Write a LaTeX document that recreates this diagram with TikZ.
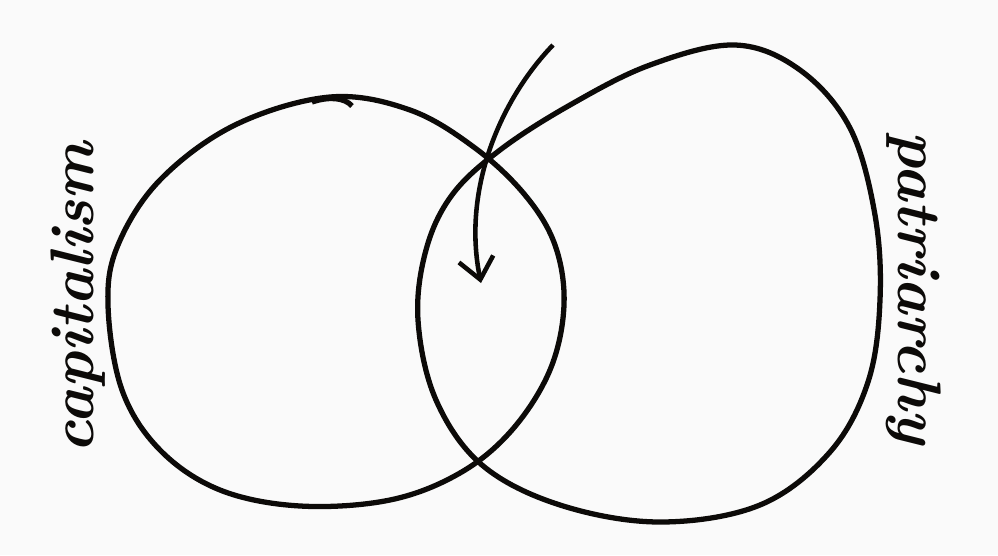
\documentclass[tikz,border=0pt]{standalone}
\usepackage{tikz}
\usetikzlibrary{arrows.meta, positioning, calc}
\usepackage{xcolor}
\definecolor{paper}{RGB}{250,250,250}
\definecolor{ink}{RGB}{12,10,8}

\begin{document}
\begin{tikzpicture}[
      x=0.02cm, y=-0.02cm,
      ring/.style={draw=ink, line width=3pt, line join=round},
      lbl/.style={text=ink, font=\fontsize{35}{38}\selectfont\bfseries\itshape, inner sep=0pt},
      arr/.style={-{Straight Barb[length=0.42cm, width=0.7cm]}, line width=2.6pt, draw=ink}
    ]
    \fill[paper] (0,0) rectangle (998,555);
    \useasboundingbox (0,0) rectangle (998,555);
    % left set
    \draw[ring] plot[smooth cycle, tension=0.6] coordinates {
      (330,97) (410,110) (475,148) (525,195) (555,245) (564,305)
      (550,370) (512,430) (460,473) (390,500) (300,506) (220,490)
      (160,450) (122,390) (108,305) (118,245) (160,180) (235,125)};
    \draw[ring] (312,102) .. controls (330,96) and (345,98) .. (352,106);
    % right set
    \draw[ring] plot[smooth cycle, tension=0.6] coordinates {
      (735,45) (800,70) (850,128) (875,215) (880,300) (868,382)
      (830,452) (760,505) (660,522) (560,505) (482,465) (436,400)
      (418,320) (426,250) (452,195) (500,150) (570,105) (650,65)};
    % labels
    \node[lbl, rotate=90] (cap) at (78,298) {capitalism};
    \node[lbl, rotate=-90] (pat) at (914,288) {patriarchy};
    % pointer into the overlap
    \coordinate (arrstart) at (553,45);
    \coordinate (arrtip) at (481,283);
    \draw[arr] (arrstart) .. controls (500,100) and (462,190) .. (arrtip);
  \end{tikzpicture}
\end{document}
